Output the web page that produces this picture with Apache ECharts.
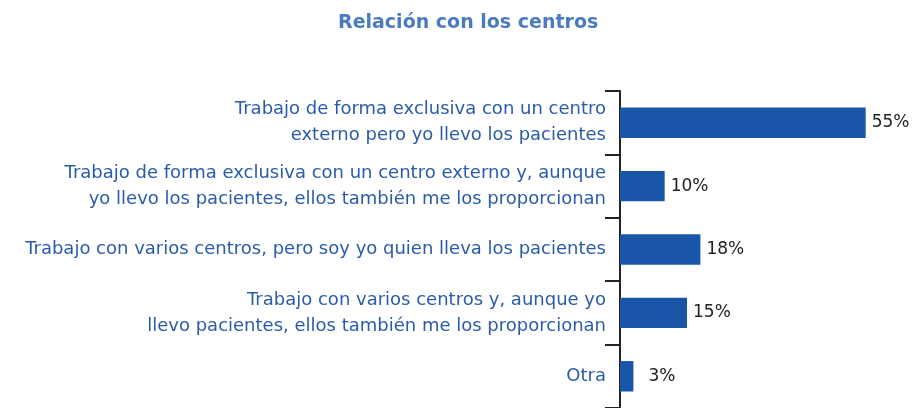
<!DOCTYPE html>
<html>
<head>
<meta charset="utf-8">
<script src="https://cdn.jsdelivr.net/npm/echarts@6/dist/echarts.min.js"></script>
<style>html,body{margin:0;padding:0;background:#fff}#c{width:912px;height:408px}</style>
</head>
<body>
<div id="c"></div>
<script>
const titleText = 'Relación con los centros';
const categories = [
  'Trabajo de forma exclusiva con un centro\nexterno pero yo llevo los pacientes',
  'Trabajo de forma exclusiva con un centro externo y, aunque\nyo llevo los pacientes, ellos también me los proporcionan',
  'Trabajo con varios centros, pero soy yo quien lleva los pacientes',
  'Trabajo con varios centros y, aunque yo\nllevo pacientes, ellos también me los proporcionan',
  'Otra'
];
const values = [55, 10, 18, 15, 3];

const chart = echarts.init(document.getElementById('c'), null, {renderer: 'canvas'});
const FONT = '"DejaVu Sans", sans-serif';
chart.setOption({
  animation: false,
  title: {
    text: titleText, left: 333, top: 9,
    textStyle: {color: '#4a7bbf', fontSize: 19, fontWeight: 'bold', fontFamily: FONT}
  },
  grid: {left: 620, top: 91, width: 268, bottom: -1, containLabel: false},
  xAxis: {
    type: 'value', min: 0, max: 60, show: false
  },
  yAxis: {
    type: 'category', data: categories, inverse: true,
    axisLine: {show: true, lineStyle: {color: '#222', width: 2}},
    axisTick: {show: true, length: 15, lineStyle: {color: '#222', width: 2}},
    axisLabel: {color: '#2a5caa', fontSize: 18, fontFamily: FONT, lineHeight: 26, margin: 14, align: 'right'}
  },
  series: [{
    type: 'bar', barWidth: '48%',
    data: values.map((v, i) => i === values.length - 1 ? {value: v, label: {distance: 15}} : v),
    itemStyle: {color: '#1a56a8'},
    label: {show: true, position: 'right', distance: 6, formatter: '{c}%', color: '#222', fontSize: 17, fontFamily: FONT}
  }]
});
</script>
</body>
</html>
